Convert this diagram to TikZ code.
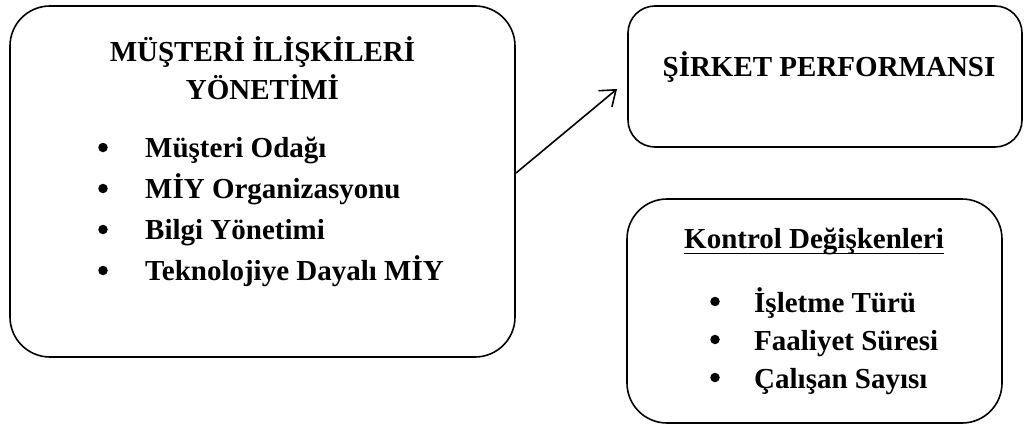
\documentclass[tikz,border=0pt]{standalone}
\usepackage{fontspec}
\setmainfont{Liberation Serif}
\usetikzlibrary{arrows.meta}
\tikzset{
  box/.style={draw=black, line width=1.6pt, rounded corners=#1},
  lbl/.style={anchor=base, inner sep=0pt, font=\fontsize{29}{35}\selectfont\bfseries},
  itemtxt/.style={anchor=base west, inner sep=0pt, font=\fontsize{29}{35}\selectfont\bfseries},
  bul/.style={circle, fill=black, inner sep=0pt, minimum size=9.5pt},
  conn/.style={line width=1.6pt, -{Straight Barb[length=14pt,width=21pt,line width=1.6pt]}}
}
\begin{document}
\begin{tikzpicture}[x=1pt,y=-1pt]
\useasboundingbox[fill=white] (0,0) rectangle (1030,428);
% boxes
\draw[box=40pt] (10,6) rectangle (515,357);
\draw[box=27pt] (628,6) rectangle (1022,147);
\draw[box=40pt] (627,199) rectangle (1002,423);
\node[inner sep=0pt, minimum width=505pt, minimum height=351pt] (crm) at (262.5,181.5) {};
\node[inner sep=0pt, minimum width=394pt, minimum height=141pt] (perf) at (825,76.5) {};
\node[inner sep=0pt, minimum width=375pt, minimum height=224pt] (ctrl) at (814.5,311) {};
% left texts
\node[lbl] (t1) at (262.5,62) {MÜŞTERİ İLİŞKİLERİ};
\node[lbl] (t2) at (262.5,99) {YÖNETİMİ};
\node[bul] (b1) at (103,147.5) {};
\node[itemtxt] (i1) at (145,157) {Müşteri Odağı};
\node[bul] (b2) at (103,188.5) {};
\node[itemtxt] (i2) at (145,198) {MİY Organizasyonu};
\node[bul] (b3) at (103,229.5) {};
\node[itemtxt] (i3) at (145,239) {Bilgi Yönetimi};
\node[bul] (b4) at (103,270.5) {};
\node[itemtxt] (i4) at (145,280) {Teknolojiye Dayalı MİY};
% right top
\node[lbl] (t3) at (829,76) {ŞİRKET PERFORMANSI};
% right bottom
\node[lbl] (t4) at (814,248) {Kontrol Değişkenleri};
\draw[line width=1.5pt] ([yshift=-5.5pt]t4.base west) -- ([yshift=-5.5pt]t4.base east);
\node[bul] (b5) at (715,301.5) {};
\node[itemtxt] (j1) at (754,312) {İşletme Türü};
\node[bul] (b6) at (715,339.5) {};
\node[itemtxt] (j2) at (754,350) {Faaliyet Süresi};
\node[bul] (b7) at (715,377.5) {};
\node[itemtxt] (j3) at (754,388) {Çalışan Sayısı};
% arrow
\coordinate (as) at (516,173);
\coordinate (ae) at (617,89);
\draw[conn] (as) -- (ae);
\end{tikzpicture}
\end{document}
